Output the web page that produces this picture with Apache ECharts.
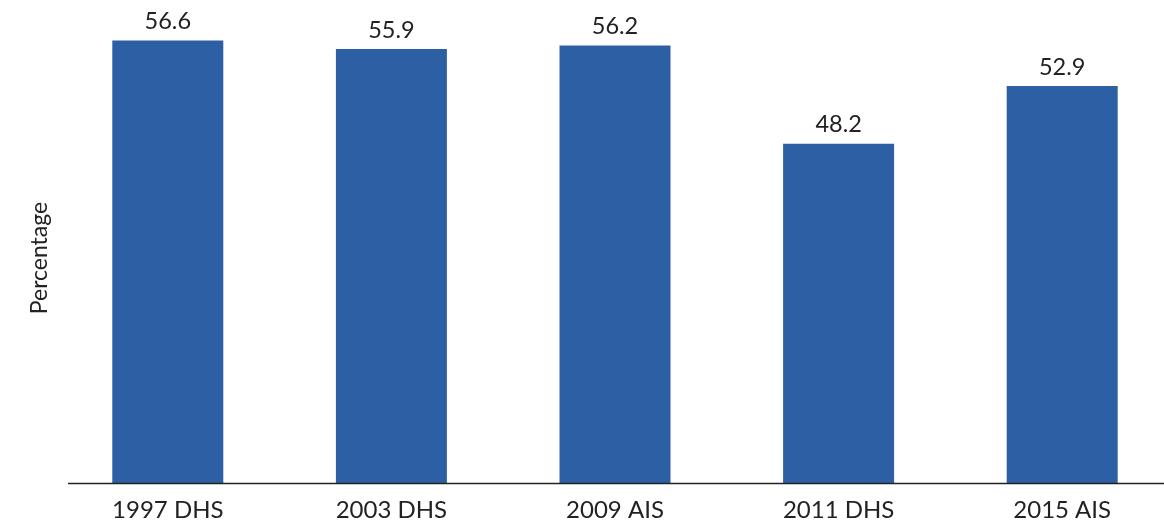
<!DOCTYPE html>
<html>
<head>
<meta charset="utf-8">
<script src="https://cdn.jsdelivr.net/npm/echarts@6/dist/echarts.min.js"></script>
<style>
html,body{margin:0;padding:0;background:#fff;overflow:hidden;}
#chart{width:1174px;height:523px;}
</style>
</head>
<body>
<div id="chart"></div>
<script>
const categories = ['1997 DHS', '2003 DHS', '2009 AIS', '2011 DHS', '2015 AIS'];
const values = [56.6, 55.9, 56.2, 48.2, 52.9];
const yAxisTitle = 'Percentage';

const chart = echarts.init(document.getElementById('chart'), null, {renderer: 'canvas'});
const font = 'Lato, "Open Sans", sans-serif';
chart.setOption({
  animation: false,
  grid: {left: 56, right: 0, top: 11, bottom: 40, containLabel: false},
  xAxis: {
    type: 'category',
    data: categories,
    axisLine: {show: false},
    axisTick: {show: false},
    axisLabel: {color: '#222', fontFamily: font, fontSize: 24, margin: 15}
  },
  yAxis: {
    type: 'value',
    min: 20.6,
    max: 59,
    axisLine: {show: false},
    axisTick: {show: false},
    axisLabel: {show: false},
    splitLine: {show: false}
  },
  graphic: [{
    type: 'line',
    shape: {x1: 68, y1: 483.5, x2: 1174, y2: 483.5},
    style: {stroke: '#222', lineWidth: 1.5},
    z: 100
  }, {
    type: 'text',
    x: 40,
    y: 258,
    rotation: Math.PI / 2,
    style: {
      text: yAxisTitle,
      fill: '#222',
      font: '23px Lato, "Open Sans", sans-serif',
      align: 'center',
      verticalAlign: 'middle'
    }
  }],
  series: [{
    type: 'bar',
    data: values,
    barWidth: 111,
    itemStyle: {color: '#2d5fa5'},
    label: {
      show: true,
      position: 'top',
      distance: 7,
      color: '#222',
      fontFamily: font,
      fontSize: 23.5
    }
  }]
});
</script>
</body>
</html>
